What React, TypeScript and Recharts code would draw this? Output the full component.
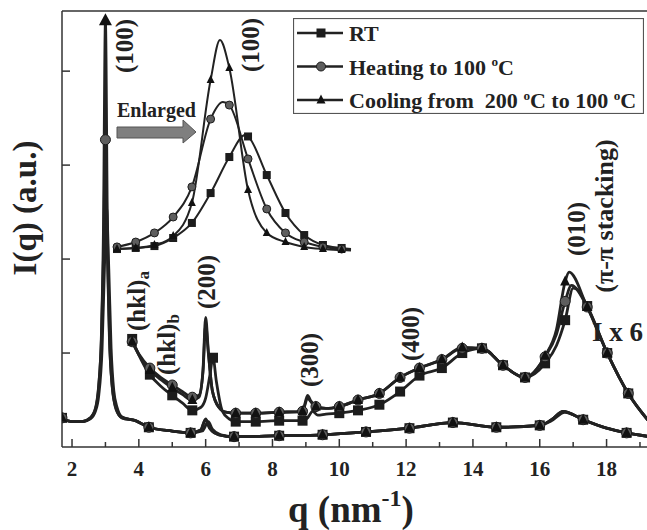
import { LineChart, Line, XAxis, YAxis, ReferenceLine, Legend } from "recharts"

type Pt = [number, number, number?]

const FONT = "Liberation Serif, DejaVu Serif, serif"
const INK = "#222"

const qTicks = [2, 3, 4, 5, 6, 7, 8, 9, 10, 11, 12, 13, 14, 15, 16, 17, 18, 19]
const qLabels = [2, 4, 6, 8, 10, 12, 14, 16, 18]
const yTicks = [1, 2, 3, 4]
const Y_MAX = 4.64

// [q, I, marker] ; marker 1 = symbol, 2 = arrow (peak off scale)
const rtLow: Pt[] = [
  [1.7, 0.31, 1], [2.0, 0.27], [2.3, 0.27], [2.55, 0.3], [2.7, 0.38], [2.8, 0.55], [2.9, 1.05],
  [2.97, 1.9], [3.03, 2.55], [3.1, 1.9], [3.17, 1.05], [3.25, 0.6], [3.35, 0.42], [3.5, 0.32],
  [3.9, 0.28], [4.3, 0.21, 1], [5.0, 0.17], [5.55, 0.15, 1], [5.9, 0.17], [6.08, 0.27], [6.2, 0.19],
  [6.45, 0.13], [6.85, 0.11, 1], [8.2, 0.12, 1], [9.5, 0.13, 1], [10.8, 0.16, 1], [12.1, 0.2, 1],
  [13.4, 0.26, 1], [14.7, 0.21, 1], [16.0, 0.23, 1], [16.35, 0.28], [16.75, 0.37], [17.3, 0.29, 1],
  [18.0, 0.2], [18.6, 0.15, 1], [19.3, 0.11],
]
const heatLow: Pt[] = [
  [1.7, 0.31, 1], [2.0, 0.27], [2.3, 0.27], [2.55, 0.31], [2.7, 0.41], [2.8, 0.66], [2.88, 1.15],
  [2.94, 2.0], [3.0, 3.27, 1], [3.06, 2.0], [3.12, 1.15], [3.2, 0.66], [3.32, 0.41], [3.5, 0.31],
  [3.9, 0.28], [4.3, 0.21, 1], [5.0, 0.17], [5.55, 0.15, 1], [5.85, 0.18], [6.0, 0.29], [6.12, 0.2],
  [6.4, 0.13], [6.85, 0.11, 1], [8.2, 0.12, 1], [9.5, 0.13, 1], [10.8, 0.16, 1], [12.1, 0.2, 1],
  [13.4, 0.26, 1], [14.7, 0.21, 1], [16.0, 0.23, 1], [16.35, 0.29], [16.7, 0.38], [17.3, 0.29, 1],
  [18.0, 0.2], [18.6, 0.15, 1], [19.3, 0.11],
]
const coolLow: Pt[] = [
  [1.7, 0.31, 1], [2.0, 0.27], [2.3, 0.27], [2.55, 0.31], [2.7, 0.4], [2.8, 0.65], [2.88, 1.2],
  [2.94, 2.3], [3.0, 4.52, 2], [3.06, 2.3], [3.12, 1.2], [3.2, 0.65], [3.32, 0.4], [3.5, 0.31],
  [3.9, 0.28], [4.3, 0.21, 1], [5.0, 0.17], [5.55, 0.15, 1], [5.85, 0.18], [6.0, 0.3], [6.12, 0.2],
  [6.4, 0.13], [6.85, 0.11, 1], [8.2, 0.12, 1], [9.5, 0.13, 1], [10.8, 0.16, 1], [12.1, 0.2, 1],
  [13.4, 0.26, 1], [14.7, 0.21, 1], [16.0, 0.23, 1], [16.35, 0.29], [16.7, 0.38], [17.3, 0.29, 1],
  [18.0, 0.2], [18.6, 0.15, 1], [19.3, 0.11],
]

// I x 6 traces
const rtHigh: Pt[] = [
  [3.8, 1.15, 1], [4.0, 0.98], [4.33, 0.77, 1], [4.65, 0.65], [5.0, 0.55, 1], [5.3, 0.47],
  [5.6, 0.39, 1], [5.85, 0.42], [6.0, 0.52], [6.12, 0.75], [6.22, 0.95, 1], [6.32, 0.7], [6.5, 0.38],
  [6.7, 0.3], [6.9, 0.27, 1], [7.5, 0.27, 1], [8.2, 0.28, 1], [8.9, 0.28, 1], [9.05, 0.31],
  [9.2, 0.38], [9.35, 0.34], [9.6, 0.35], [10.0, 0.36, 1], [10.56, 0.39, 1], [11.2, 0.45, 1],
  [11.82, 0.59, 1], [12.4, 0.76, 1], [13.07, 0.84, 1], [13.68, 1.0, 1], [14.27, 1.05, 1],
  [14.9, 0.87, 1], [15.56, 0.74, 1], [16.16, 0.89, 1], [16.5, 1.08], [16.76, 1.35, 1], [17.0, 1.69],
  [17.1, 1.68], [17.42, 1.5, 1], [18.02, 1.0, 1], [18.65, 0.57, 1], [19.3, 0.26],
]
const heatHigh: Pt[] = [
  [3.8, 1.12, 1], [4.0, 0.99], [4.33, 0.84, 1], [4.65, 0.74], [5.0, 0.66, 1], [5.3, 0.59],
  [5.6, 0.53, 1], [5.8, 0.55], [5.92, 0.8], [6.0, 1.3], [6.08, 1.0], [6.2, 0.6], [6.4, 0.42],
  [6.6, 0.37], [6.9, 0.36, 1], [7.5, 0.36, 1], [8.2, 0.37, 1], [8.9, 0.38, 1], [9.05, 0.52],
  [9.15, 0.48], [9.3, 0.43, 1], [9.6, 0.41], [10.0, 0.43, 1], [10.56, 0.5, 1], [11.2, 0.57, 1],
  [11.82, 0.74, 1], [12.4, 0.84, 1], [13.07, 0.93, 1], [13.68, 1.05, 1], [14.27, 1.05, 1],
  [14.9, 0.87, 1], [15.56, 0.74, 1], [16.16, 0.96, 1], [16.5, 1.2], [16.76, 1.55, 1], [16.95, 1.72],
  [17.42, 1.49, 1], [18.02, 1.0, 1], [18.65, 0.57, 1], [19.3, 0.26],
]
const coolHigh: Pt[] = [
  [3.8, 1.12, 1], [4.0, 0.98], [4.33, 0.82, 1], [4.65, 0.72], [5.0, 0.63, 1], [5.3, 0.56],
  [5.6, 0.5, 1], [5.8, 0.53], [5.92, 0.82], [6.0, 1.38], [6.08, 1.02], [6.2, 0.6], [6.4, 0.42],
  [6.6, 0.37], [6.9, 0.36, 1], [7.5, 0.36, 1], [8.2, 0.37, 1], [8.9, 0.38, 1], [9.05, 0.55],
  [9.15, 0.49], [9.3, 0.43, 1], [9.6, 0.41], [10.0, 0.43, 1], [10.56, 0.5, 1], [11.2, 0.57, 1],
  [11.82, 0.74, 1], [12.4, 0.84, 1], [13.07, 0.93, 1], [13.68, 1.06, 1], [14.27, 1.05, 1],
  [14.9, 0.87, 1], [15.56, 0.74, 1], [16.16, 0.97, 1], [16.5, 1.25], [16.76, 1.76, 1], [16.88, 1.86],
  [17.42, 1.49, 1], [18.02, 1.0, 1], [18.65, 0.57, 1], [19.3, 0.26],
]

// enlarged (100) peak
const rtInset: Pt[] = [
  [2.7, 0.014, 1], [2.75, 0.019, 1], [2.8, 0.028, 1], [2.85, 0.066, 1], [2.9, 0.137, 1], [2.95, 0.278, 1],
  [3.0, 0.448, 1], [3.042, 0.552], [3.05, 0.545, 1], [3.1, 0.363, 1], [3.15, 0.184, 1], [3.2, 0.08, 1],
  [3.25, 0.033, 1], [3.3, 0.019, 1], [3.325, 0.014],
]
const heatInset: Pt[] = [
  [2.7, 0.024, 1], [2.75, 0.047, 1], [2.8, 0.09, 1], [2.85, 0.165, 1], [2.9, 0.307, 1], [2.95, 0.627, 1],
  [2.983, 0.708], [3.0, 0.693, 1], [3.05, 0.439, 1], [3.1, 0.203, 1], [3.15, 0.09, 1], [3.2, 0.047, 1],
  [3.25, 0.024, 1], [3.3, 0.014, 1], [3.325, 0.01],
]
const coolInset: Pt[] = [
  [2.7, 0.014, 1], [2.75, 0.019, 1], [2.8, 0.033, 1], [2.85, 0.075, 1], [2.9, 0.231, 1], [2.95, 0.811, 1],
  [2.975, 1.0], [3.0, 0.868, 1], [3.05, 0.292, 1], [3.1, 0.09, 1], [3.15, 0.047, 1], [3.2, 0.024, 1],
  [3.25, 0.014, 1], [3.3, 0.009, 1], [3.325, 0.007],
]

type Shape = "square" | "circle" | "triangle"

const series: { name: string; shape: Shape; low: Pt[]; high: Pt[]; inset: Pt[] }[] = [
  { name: "RT", shape: "square", low: rtLow, high: rtHigh, inset: rtInset },
  { name: "Heating to 100 °C", shape: "circle", low: heatLow, high: heatHigh, inset: heatInset },
  { name: "Cooling from  200 °C to 100 °C", shape: "triangle", low: coolLow, high: coolHigh, inset: coolInset },
]

const rows = (pts: Pt[]) => pts.map(([q, I, m]) => ({ q, I, m: m ?? 0 }))

function Marker({ shape, cx, cy, size }: { shape: Shape; cx: number; cy: number; size: number }) {
  const h = size / 2
  if (shape === "square") return <rect x={cx - h} y={cy - h} width={size} height={size} fill="#1c1c1c" />
  if (shape === "circle") return <circle cx={cx} cy={cy} r={h} fill="#5e5e5e" stroke="#1c1c1c" strokeWidth={1} />
  return <polygon points={`${cx},${cy - h - 1} ${cx - h},${cy + h - 1} ${cx + h},${cy + h - 1}`} fill="#111" />
}

const markerDot = (shape: Shape, size: number) => (props: any) => {
  const { cx, cy, payload, index } = props
  if (!payload || !payload.m) return <g key={index} />
  if (payload.m === 2)
    return <polygon key={index} points={`${cx},${cy - 9} ${cx - 6.5},${cy + 3} ${cx + 6.5},${cy + 3}`} fill="#111" />
  return (
    <g key={index}>
      <Marker shape={shape} cx={cx} cy={cy} size={size} />
    </g>
  )
}

// "°" drawn as a raised small o, as in the figure
function withDegree(label: string, size: number) {
  const parts = label.split("°")
  return parts.map((p, i) => (
    <tspan key={i}>
      {i > 0 && (
        <tspan dy={-size * 0.38} fontSize={size * 0.6}>
          o
        </tspan>
      )}
      <tspan dy={i > 0 ? size * 0.38 : 0} fontSize={size}>
        {p}
      </tspan>
    </tspan>
  ))
}

function LegendBox() {
  return (
    <svg width={351} height={96} style={{ display: "block" }}>
      <rect x={0.5} y={0.5} width={350} height={95} fill="#fff" stroke="#555" strokeWidth={1.2} />
      {series.map((s, i) => {
        const y = 15 + i * 33.5
        return (
          <g key={s.name}>
            <line x1={4} x2={50} y1={y} y2={y} stroke={INK} strokeWidth={2.6} />
            <Marker shape={s.shape} cx={28} cy={y} size={9} />
            <text x={56} y={y + 8} fontFamily={FONT} fontWeight="bold" fontSize={22} fill={INK} style={{ whiteSpace: "pre" }}>
              {withDegree(s.name, 22)}
            </text>
          </g>
        )
      })}
    </svg>
  )
}

function XTick(props: any) {
  const { x, y, payload } = props
  const major = qLabels.includes(payload.value)
  return (
    <g>
      <line x1={x} x2={x} y1={y} y2={y - (major ? 8 : 5)} stroke="#333" strokeWidth={1.5} />
      {major && (
        <text x={x} y={y + 29} textAnchor="middle" fontFamily={FONT} fontWeight="bold" fontSize={21} fill={INK}>
          {payload.value}
        </text>
      )}
    </g>
  )
}

function Rot({ x, y, size = 25, anchor = "middle", children }: any) {
  return (
    <text
      x={x}
      y={y}
      transform={`rotate(-90 ${x} ${y})`}
      textAnchor={anchor}
      dominantBaseline="central"
      fontFamily={FONT}
      fontWeight="bold"
      fontSize={size}
      fill={INK}
    >
      {children}
    </text>
  )
}

export default function App() {
  return (
    <div style={{ position: "absolute", left: 0, top: 0, width: 647, height: 530, overflow: "hidden", background: "#fff", fontFamily: FONT }}>
      <LineChart width={660} height={530} margin={{ top: 11, right: 10, bottom: 53, left: 62 }}>
        <XAxis
          dataKey="q"
          type="number"
          domain={[1.7, 19.3]}
          ticks={qTicks}
          height={30}
          tickSize={0}
          tickMargin={0}
          tickLine={false}
          axisLine={{ stroke: "#333", strokeWidth: 1.5 }}
          tick={(p: any) => <XTick {...p} />}
          interval={0}
          allowDataOverflow
        />
        <YAxis
          type="number"
          domain={[0, Y_MAX]}
          ticks={yTicks}
          width={20}
          mirror
          tickSize={8}
          tickFormatter={() => ""}
          axisLine={{ stroke: "#333", strokeWidth: 1.5 }}
          tickLine={{ stroke: "#333", strokeWidth: 1.5 }}
          allowDataOverflow
        />
        <ReferenceLine y={Y_MAX} stroke="#333" strokeWidth={1.5} />
        {series.map((s) => (
          <Line
            key={`low-${s.name}`}
            data={rows(s.low)}
            dataKey="I"
            name={s.name}
            legendType="none"
            type="monotone"
            stroke={INK}
            strokeWidth={2.8}
            dot={markerDot(s.shape, 10)}
            activeDot={false}
            isAnimationActive={false}
          />
        ))}
        {series.map((s) => (
          <Line
            key={`high-${s.name}`}
            data={rows(s.high)}
            dataKey="I"
            name={s.name}
            type="monotone"
            stroke={INK}
            strokeWidth={2.8}
            dot={markerDot(s.shape, 10)}
            activeDot={false}
            isAnimationActive={false}
          />
        ))}
        <Legend
          layout="vertical"
          align="center"
          verticalAlign="middle"
          wrapperStyle={{ left: 293, top: 18, width: 351, height: 96 }}
          content={() => <LegendBox />}
        />
      </LineChart>

      <div style={{ position: "absolute", left: 107, top: 30 }}>
        <LineChart width={254} height={232} margin={{ top: 10, right: 10, bottom: 10, left: 10 }}>
          <XAxis dataKey="q" type="number" domain={[2.7, 3.325]} hide />
          <YAxis type="number" domain={[0, 1]} hide />
          {series.map((s) => (
            <Line
              key={`inset-${s.name}`}
              data={rows(s.inset)}
              dataKey="I"
              name={s.name}
              type="monotone"
              stroke={INK}
              strokeWidth={2}
              dot={markerDot(s.shape, 8)}
              activeDot={false}
              isAnimationActive={false}
            />
          ))}
        </LineChart>
      </div>

      <svg width={647} height={530} style={{ position: "absolute", left: 0, top: 0, pointerEvents: "none" }}>
        <Rot x={124} y={46}>(100)</Rot>
        <Rot x={250} y={45}>(100)</Rot>
        <Rot x={136} y={331} anchor="start">
          (hkl)<tspan dy={7} fontSize={17}>a</tspan>
        </Rot>
        <Rot x={166} y={375} anchor="start">
          (hkl)<tspan dy={7} fontSize={17}>b</tspan>
        </Rot>
        <Rot x={206} y={282}>(200)</Rot>
        <Rot x={309} y={360}>(300)</Rot>
        <Rot x={410} y={334}>(400)</Rot>
        <Rot x={576} y={229}>(010)</Rot>
        <Rot x={604} y={216} size={26}>(π-π stacking)</Rot>
        <text x={592} y={341} fontFamily={FONT} fontWeight="bold" fontSize={27} fill={INK}>
          I x 6
        </text>
        <text x={117} y={117} fontFamily={FONT} fontWeight="bold" fontSize={20} fill={INK}>
          Enlarged
        </text>
        <polygon
          points="117,127 183,127 183,120 196,132 183,143 183,138 117,138"
          fill="#7f7f7f"
          stroke="#555"
          strokeWidth={1}
        />
        <Rot x={25} y={208} size={33}>I(q) (a.u.)</Rot>
        <text x={288} y={522} fontFamily={FONT} fontWeight="bold" fontSize={37} fill={INK}>
          q (nm<tspan dy={-16} fontSize={24}>-1</tspan>
          <tspan dy={16} fontSize={37}>)</tspan>
        </text>
      </svg>
    </div>
  )
}
